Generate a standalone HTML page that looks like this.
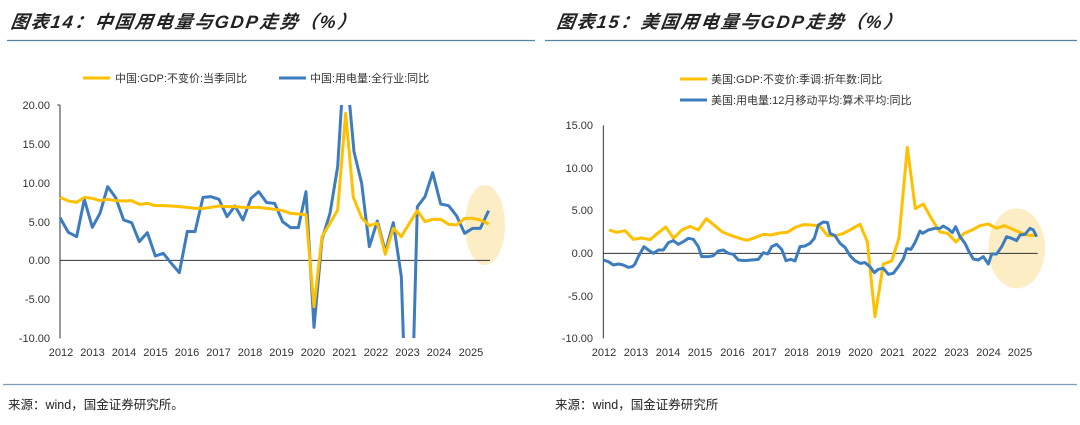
<!DOCTYPE html>
<html><head><meta charset="utf-8"><style>
body{margin:0;width:1080px;height:425px;background:#fff;overflow:hidden;font-family:"Liberation Sans","Noto Sans CJK SC",sans-serif;}
svg{position:absolute;left:0;top:0}
</style></head><body>
<svg width="1080" height="425" xmlns="http://www.w3.org/2000/svg" font-family="Liberation Sans, Noto Sans CJK SC, sans-serif">
<defs>
<clipPath id="cl"><rect x="0" y="105" width="540" height="233"/></clipPath>
</defs>
<!-- titles -->
<text x="10" y="28" font-size="18" font-weight="bold" font-style="italic" fill="#222" letter-spacing="2" transform="skewX(-8) translate(4,0)">图表14：中国用电量与GDP走势（%）</text>
<text x="556" y="28" font-size="18" font-weight="bold" font-style="italic" fill="#222" letter-spacing="2" transform="skewX(-8) translate(4,0)">图表15：美国用电量与GDP走势（%）</text>
<line x1="7" y1="40.5" x2="535" y2="40.5" stroke="#4f84a8" stroke-width="1.3"/>
<line x1="545" y1="40.5" x2="1077" y2="40.5" stroke="#4f84a8" stroke-width="1.3"/>
<line x1="3" y1="384.5" x2="1077" y2="384.5" stroke="#7d9cb5" stroke-width="1.3"/>
<text x="8" y="409" font-size="12.5" fill="#222">来源：wind，国金证券研究所。</text>
<text x="555" y="409" font-size="12.5" fill="#222">来源：wind，国金证券研究所</text>

<!-- left legend -->
<line x1="83" y1="78" x2="110" y2="78" stroke="#ffc000" stroke-width="3"/>
<text x="115" y="82" font-size="11" fill="#333">中国:GDP:不变价:当季同比</text>
<line x1="279" y1="78" x2="306" y2="78" stroke="#3d7dbf" stroke-width="3"/>
<text x="310" y="82" font-size="11" fill="#333">中国:用电量:全行业:同比</text>

<!-- right legend -->
<line x1="680" y1="79" x2="707" y2="79" stroke="#ffc000" stroke-width="3"/>
<text x="711" y="83" font-size="11" fill="#333">美国:GDP:不变价:季调:折年数:同比</text>
<line x1="680" y1="100" x2="707" y2="100" stroke="#3d7dbf" stroke-width="3"/>
<text x="711" y="104" font-size="11" fill="#333">美国:用电量:12月移动平均:算术平均:同比</text>

<!-- left chart -->
<g font-size="11" fill="#333" text-anchor="end">
<text x="50" y="109">20.00</text><text x="50" y="148">15.00</text><text x="50" y="187">10.00</text><text x="50" y="226">5.00</text><text x="50" y="264">0.00</text><text x="50" y="303">-5.00</text><text x="50" y="342">-10.00</text>
</g>
<g font-size="11" fill="#333" text-anchor="middle">
<text x="61" y="356">2012</text><text x="92.5" y="356">2013</text><text x="124" y="356">2014</text><text x="155.5" y="356">2015</text><text x="187" y="356">2016</text><text x="218.5" y="356">2017</text><text x="250" y="356">2018</text><text x="281.5" y="356">2019</text><text x="313" y="356">2020</text><text x="344.5" y="356">2021</text><text x="376" y="356">2022</text><text x="407.5" y="356">2023</text><text x="439" y="356">2024</text><text x="471" y="356">2025</text>
</g>
<g transform="translate(0,90) scale(0.33333)">
<ellipse cx="1455" cy="405" rx="60" ry="120" fill="#fbe7b0" opacity="0.75"/>
<line x1="180" y1="45" x2="180" y2="745" stroke="#333" stroke-width="3"/>
<line x1="172" y1="45" x2="180" y2="45" stroke="#333" stroke-width="3"/>
<line x1="180" y1="511" x2="1470" y2="511" stroke="#333" stroke-width="3"/>
</g>
<g clip-path="url(#cl)"><g transform="translate(0,90) scale(0.33333)" fill="none" stroke-linejoin="round">
<polyline stroke="#3d7dbf" stroke-width="9" points="180,383 205,427 230,440 253,328 277,412 300,370 323,290 347,323 371,390 395,398 418,455 442,428 466,498 490,490 514,520 538,548 562,424 585,425 609,322 633,320 657,328 681,380 705,348 729,390 753,325 776,305 800,338 824,340 848,395 872,413 895,413 918,305 942,712 966,448 990,370 1013,230 1026,20 1047,20 1062,185 1085,280 1108,470 1132,393 1156,485 1180,398 1204,560 1212,800 1240,800 1252,350 1275,320 1298,248 1322,342 1346,347 1370,378 1394,430 1418,415 1441,415 1466,362"/>
<polyline stroke="#ffc000" stroke-width="9" points="180,322 205,333 230,337 253,322 277,325 300,332 323,328 347,332 371,333 395,332 418,343 442,340 466,347 490,347 514,348 538,350 562,352 585,355 609,355 633,352 657,348 681,350 705,350 729,352 753,352 776,352 800,355 824,358 848,362 872,370 895,372 918,374 942,650 966,440 990,400 1013,360 1037,70 1060,322 1085,383 1108,407 1132,400 1156,493 1180,415 1204,440 1228,400 1252,362 1275,395 1298,388 1322,388 1346,403 1370,405 1394,385 1418,385 1441,390 1466,402"/>
</g></g>

<!-- right chart -->
<g font-size="11" fill="#333" text-anchor="end">
<text x="593" y="129">15.00</text><text x="593" y="172">10.00</text><text x="593" y="214">5.00</text><text x="593" y="257">0.00</text><text x="593" y="300">-5.00</text><text x="593" y="342">-10.00</text>
</g>
<g font-size="11" fill="#333" text-anchor="middle">
<text x="604" y="356">2012</text><text x="636" y="356">2013</text><text x="668" y="356">2014</text><text x="700" y="356">2015</text><text x="732.5" y="356">2016</text><text x="764.5" y="356">2017</text><text x="796.5" y="356">2018</text><text x="828.5" y="356">2019</text><text x="860.5" y="356">2020</text><text x="892.5" y="356">2021</text><text x="924.5" y="356">2022</text><text x="956.5" y="356">2023</text><text x="988.5" y="356">2024</text><text x="1020" y="356">2025</text>
</g>
<g transform="translate(545,110) scale(0.33333)" fill="none" stroke-linejoin="round">
<ellipse cx="1415" cy="415" rx="85" ry="120" fill="#fbe7b0" opacity="0.75" stroke="none"/>
<line x1="175" y1="46" x2="175" y2="685" stroke="#333" stroke-width="3"/>
<line x1="175" y1="430" x2="1478" y2="430" stroke="#333" stroke-width="3"/>
<polyline stroke="#ffc000" stroke-width="9" points="192,360 215,367 240,362 265,388 290,384 315,389 338,370 362,351 386,385 410,360 435,349 460,360 484,326 508,346 532,366 557,376 581,384 606,391 630,383 655,373 679,375 703,369 727,367 751,352 775,344 800,345 824,348 848,377 872,377 896,370 920,357 945,343 967,395 990,620 1015,462 1040,453 1062,384 1087,112 1111,296 1135,282 1160,327 1185,366 1208,370 1233,396 1257,370 1281,360 1305,347 1330,342 1354,355 1378,347 1402,357 1426,368 1450,376 1476,376"/>
<polyline stroke="#3d7dbf" stroke-width="9" points="175,450 190,455 205,465 220,462 235,465 250,472 262,470 270,462 280,440 297,410 310,420 325,430 340,420 355,420 370,398 385,392 400,403 415,395 430,385 445,388 460,410 470,440 490,440 505,437 520,423 535,420 550,430 565,433 580,450 600,452 620,450 640,448 655,428 668,432 680,410 695,403 710,418 723,452 738,448 750,453 765,410 780,408 795,400 808,385 820,345 835,336 848,338 855,370 870,377 885,400 900,412 915,437 930,452 945,460 960,458 975,470 988,488 1000,478 1015,475 1030,493 1045,490 1060,470 1075,447 1085,416 1098,418 1110,398 1125,363 1133,370 1150,360 1170,355 1185,355 1195,348 1210,357 1222,368 1232,350 1245,380 1260,400 1272,425 1285,447 1300,450 1315,440 1330,462 1340,432 1355,432 1370,410 1385,380 1400,385 1415,392 1425,375 1440,373 1455,355 1465,360 1475,380"/>
</g>
</svg>
</body></html>
